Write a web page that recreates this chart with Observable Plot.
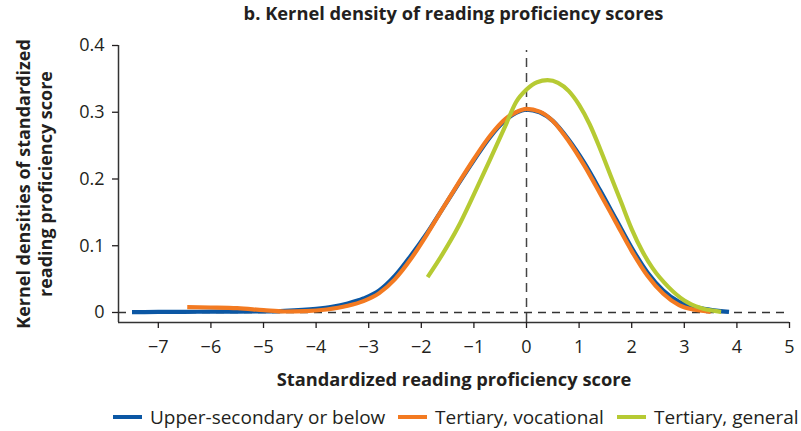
<!DOCTYPE html>
<html>
<head>
<meta charset="utf-8">
<script src="https://cdn.jsdelivr.net/npm/d3@7"></script>
<script src="https://cdn.jsdelivr.net/npm/@observablehq/plot@0.6"></script>
<style>
  body { margin: 0; background: #fff; }
  #wrap { position: relative; width: 801px; height: 431px; font-family: "Open Sans", sans-serif; color: #231f20; overflow: hidden; }
  #title { position: absolute; left: 118px; width: 671px; top: 2px; text-align: center; font-weight: bold; font-size: 18.3px; line-height: 22px; }
  #chart { position: absolute; left: 0; top: 28px; }
  .lg { position: absolute; top: 406px; display: flex; align-items: center; font-size: 19px; line-height: 22px; white-space: nowrap; }
  .lg .sw { width: 29px; height: 4px; margin-right: 8px; }
</style>
</head>
<body>
<div id="wrap">
  <div id="title">b. Kernel density of reading proficiency scores</div>
  <div id="chart"></div>
  <div id="legend"></div>
</div>
<script>
const titleText = "b. Kernel density of reading proficiency scores";
const xLabel = "Standardized reading proficiency score";
const yLabel = "Kernel densities of standardized\nreading proficiency score";

const seriesNames = ["Upper-secondary or below", "Tertiary, vocational", "Tertiary, general"];
const seriesColors = ["#0b57a4", "#f37a21", "#b6ca33"];

const xTicks = [-7, -6, -5, -4, -3, -2, -1, 0, 1, 2, 3, 4, 5];
const yTicks = [0, 0.1, 0.2, 0.3, 0.4];
const xDomain = [-7.757, 5];
const yDomain = [-0.015, 0.4];
const vRuleTop = 0.3925;

const upperX = [-7.5, -7.0, -6.5, -6.0, -5.5, -5.0, -4.6, -4.0, -3.7, -3.4, -3.1, -2.8, -2.5, -2.2, -1.9, -1.6, -1.3, -1.0, -0.7, -0.4, -0.2, 0, 0.25, 0.5, 0.8, 1.1, 1.4, 1.7, 2.0, 2.3, 2.6, 2.9, 3.2, 3.5, 3.85];
const upperY = [0.0005, 0.0008, 0.001, 0.0012, 0.0014, 0.0017, 0.0025, 0.0055, 0.0085, 0.0135, 0.021, 0.033, 0.055, 0.085, 0.118, 0.155, 0.192, 0.228, 0.262, 0.288, 0.299, 0.304, 0.300, 0.287, 0.259, 0.224, 0.183, 0.140, 0.097, 0.060, 0.033, 0.016, 0.008, 0.004, 0.001];

const vocX = [-6.45, -6.0, -5.5, -5.0, -4.6, -4.2, -3.8, -3.4, -3.1, -2.8, -2.5, -2.2, -1.9, -1.6, -1.3, -1.0, -0.7, -0.4, -0.2, 0, 0.25, 0.5, 0.8, 1.1, 1.4, 1.7, 2.0, 2.3, 2.6, 2.9, 3.2, 3.5];
const vocY = [0.008, 0.0075, 0.0065, 0.0035, 0.0015, 0.002, 0.0045, 0.010, 0.017, 0.029, 0.050, 0.080, 0.116, 0.155, 0.193, 0.230, 0.264, 0.290, 0.300, 0.305, 0.301, 0.287, 0.257, 0.220, 0.178, 0.135, 0.092, 0.055, 0.028, 0.011, 0.004, 0.001];

const genX = [-1.88, -1.6, -1.3, -1.0, -0.7, -0.4, -0.2, 0, 0.2, 0.4, 0.6, 0.8, 1.0, 1.2, 1.4, 1.6, 1.8, 2.0, 2.2, 2.4, 2.7, 3.0, 3.3, 3.7];
const genY = [0.053, 0.087, 0.128, 0.177, 0.228, 0.280, 0.315, 0.334, 0.345, 0.348, 0.344, 0.332, 0.311, 0.282, 0.245, 0.205, 0.165, 0.125, 0.092, 0.066, 0.038, 0.018, 0.007, 0.001];

const xs = [upperX, vocX, genX];
const ys = [upperY, vocY, genY];
const data = [];
seriesNames.forEach((name, i) => {
  xs[i].forEach((x, j) => data.push({series: name, x, y: ys[i][j]}));
});

const plot = Plot.plot({
  width: 801,
  height: 372,
  marginLeft: 118,
  marginRight: 12,
  marginTop: 17,
  marginBottom: 78,
  style: {fontFamily: "'Open Sans', sans-serif", color: "#231f20", background: "#fff"},
  x: {domain: xDomain},
  y: {domain: yDomain},
  color: {domain: seriesNames, range: seriesColors},
  marks: [
    Plot.ruleY([0], {stroke: "#333", strokeWidth: 1.3, strokeDasharray: "8,6"}),
    Plot.ruleX([0], {y1: yDomain[0], y2: vRuleTop, stroke: "#444", strokeWidth: 1.5, strokeDasharray: "9,6"}),
    Plot.line(data, {x: "x", y: "y", z: "series", stroke: "series", strokeWidth: 4.2, curve: "monotone-x", strokeLinecap: "butt", strokeLinejoin: "round"}),
    Plot.ruleX([xDomain[0]], {stroke: "#333", strokeWidth: 1.5}),
    Plot.ruleY([yDomain[0]], {stroke: "#333", strokeWidth: 1.5}),
    Plot.axisX({ticks: xTicks, tickSize: 6, tickPadding: 12, label: null, fontSize: 18, strokeWidth: 1.3}),
    Plot.axisY({ticks: yTicks, tickFormat: d3.format("~g"), tickSize: 6, tickPadding: 8, label: null, fontSize: 18, strokeWidth: 1.3}),
    Plot.text([xLabel], {frameAnchor: "bottom", dy: 58, lineAnchor: "middle", text: d => d, fontWeight: "bold", fontSize: 18.3}),
    Plot.text([yLabel], {frameAnchor: "left", dx: -84.5, rotate: -90, textAnchor: "middle", lineAnchor: "middle", lineHeight: 1.25, text: d => d, fontWeight: "bold", fontSize: 18})
  ]
});
document.getElementById("chart").appendChild(plot);

const lefts = [113, 398, 617];
const legend = document.getElementById("legend");
seriesNames.forEach((name, i) => {
  const item = document.createElement("div");
  item.className = "lg";
  item.style.left = lefts[i] + "px";
  const sw = document.createElement("span");
  sw.className = "sw";
  sw.style.background = seriesColors[i];
  const t = document.createElement("span");
  t.textContent = name;
  item.appendChild(sw);
  item.appendChild(t);
  legend.appendChild(item);
});
</script>
</body>
</html>
